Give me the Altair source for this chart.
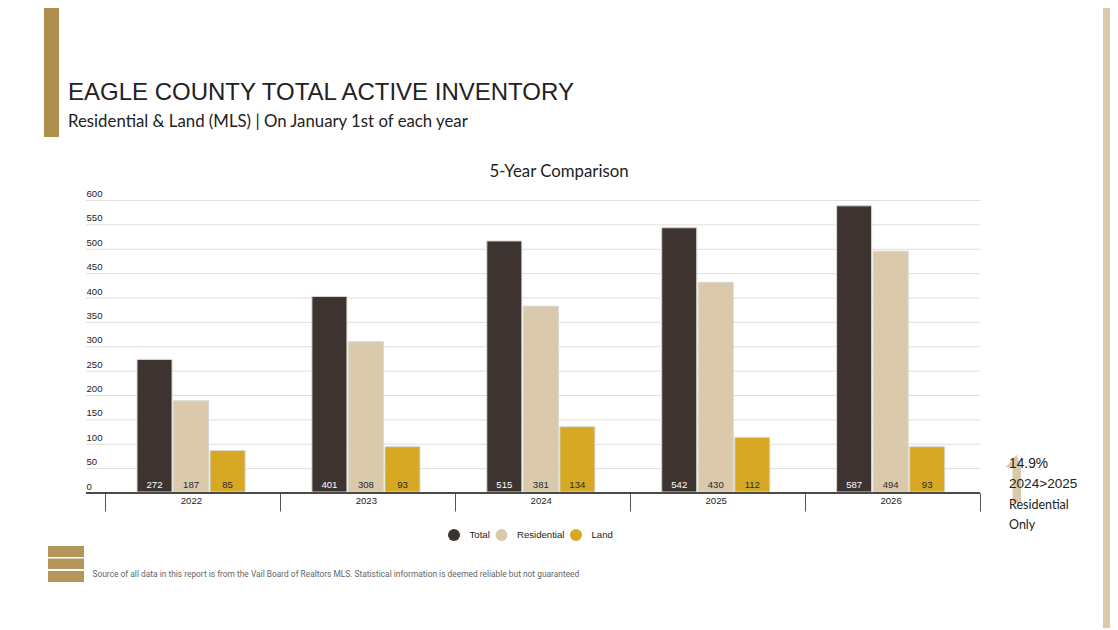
import altair as alt
import pandas as pd

years = ["2022", "2023", "2024", "2025", "2026"]
total = [272, 401, 515, 542, 587]
residential = [187, 308, 381, 430, 494]
land = [85, 93, 134, 112, 93]
series = ["Total", "Residential", "Land"]
colors = ["#3D3330", "#DAC9AB", "#D6A823"]
label_colors = ["#FFFFFF", "#2A2A2A"]
y_ticks = list(range(0, 601, 50))

rows = []
for i, yr in enumerate(years):
    for s, vals in zip(series, [total, residential, land]):
        rows.append({"year": yr, "series": s, "value": vals[i]})
df = pd.DataFrame(rows)

X0, Y0 = 105, 200.5   # plot origin in page px
W, H = 874.5, 292.5
def px(v): return alt.value(v - X0)
def py(v): return alt.value(v - Y0)

one = alt.Data(values=[{"a": 1}])

def rect(x1, x2, y1, y2, color):
    return alt.Chart(one).mark_rect(color=color).encode(x=px(x1), x2=px(x2), y=py(y1), y2=py(y2))

def text(s, x, y, size, font, color="#222222", align="left"):
    return alt.Chart(alt.Data(values=[{"t": s}])).mark_text(
        font=font, fontSize=size, color=color, align=align, baseline="alphabetic"
    ).encode(x=px(x), y=py(y), text="t:N")

x_scale = alt.Scale(domain=years, paddingInner=0, paddingOuter=0)
off_scale = alt.Scale(domain=series, paddingInner=0.041, paddingOuter=0.915, align=0.479)
y_scale = alt.Scale(domain=[0, 600], nice=False)
y_axis = alt.Axis(
    values=y_ticks, tickSize=0, domain=False, grid=False, labelAlign="left", labelBaseline="bottom",
    labelPadding=19, labelFont="Liberation Sans", labelFontSize=9.6, labelColor="#222222", labelOffset=-2)

grid = alt.Chart(pd.DataFrame({"v": y_ticks[1:]})).mark_rule(color="#DEDEDE", strokeWidth=1).encode(
    y=alt.Y("v:Q", scale=y_scale, axis=y_axis, title=None), x=px(86), x2=px(980)
)

bars = alt.Chart(df).mark_bar(stroke="#D9D6D0", strokeWidth=1, yOffset=-1).encode(
    x=alt.X("year:N", scale=x_scale, title=None, axis=alt.Axis(
        tickBand="extent", tickSize=18, tickColor="#555555", tickWidth=1,
        domain=False, labelAngle=0, labelPadding=-16, labelOffset=-1.5, labelFont="Liberation Sans",
        labelFontSize=9.6, labelColor="#222222", grid=False)),
    xOffset=alt.XOffset("series:N", scale=off_scale, sort=series),
    y=alt.Y("value:Q", scale=y_scale, title=None, axis=y_axis),
    color=alt.Color("series:N", sort=series, scale=alt.Scale(domain=series, range=colors), legend=alt.Legend(
        title=None, orient="none", legendX=448 - X0, legendY=529 - Y0, direction="horizontal", columns=3,
        symbolType="circle", symbolSize=144, symbolStrokeWidth=0, labelFont="Liberation Sans", labelFontSize=9.6,
        labelColor="#222222", labelOffset=9.5, columnPadding=5.5, padding=0)),
)

labels = alt.Chart(df).mark_text(font="Liberation Sans", fontSize=9.6, baseline="middle").encode(
    x=alt.X("year:N", scale=x_scale),
    xOffset=alt.XOffset("series:N", scale=off_scale, sort=series),
    y=alt.value(284.5),
    text="value:Q",
    color=alt.condition(alt.datum.series == "Total", alt.value(label_colors[0]), alt.value(label_colors[1])),
)

baseline_rule = alt.Chart(one).mark_rule(color="#4A4A4A", strokeWidth=2).encode(x=px(86), x2=px(980), y=py(493))

arrow = alt.Chart(one).mark_point(
    shape="M0,-0.6 L-0.95,0.5 L0.45,0.5 Z", filled=True, color="#DAC9AB", opacity=1, size=520
).encode(x=px(1016.5), y=py(461.5))

decor = [
    rect(44, 59, 8, 137, "#B08F4E"),
    rect(1103, 1110, 8, 628, "#DAC9AB"),
    rect(48, 84, 546, 557, "#B5965A"),
    rect(48, 84, 558.5, 569, "#B5965A"),
    rect(48, 84, 571, 582, "#B5965A"),
    rect(1012.5, 1021, 466, 503, "#DAC9AB"),
    arrow,
    text("EAGLE COUNTY TOTAL ACTIVE INVENTORY", 68, 100, 24, "Liberation Sans"),
    text("Residential & Land (MLS) | On January 1st of each year", 68, 127, 16.8, "Lato"),
    text("5-Year Comparison", 559, 177, 16.8, "Lato", align="center"),
    text("Source of all data in this report is from the Vail Board of Realtors MLS. Statistical information is deemed reliable but not guaranteed",
         92.5, 577, 8.4, "Roboto", color="#666666"),
    text("14.9%", 1009, 468, 13.8, "Liberation Sans"),
    text("2024>2025", 1009, 488, 13.6, "Liberation Sans"),
    text("Residential", 1009, 509, 12.5, "Lato"),
    text("Only", 1009, 529, 12.5, "Lato"),
]

chart = alt.layer(grid, bars, labels, baseline_rule, *decor).properties(
    width=W, height=H, autosize="none",
    padding={"left": X0 - 8, "top": Y0 - 8, "right": 1102 - (X0 - 8) - W, "bottom": 135},
    background="#FFFFFF",
).resolve_scale(color="independent").configure_view(stroke=None)

chart.save("out.html", embed_options={"renderer": "svg", "actions": False})
